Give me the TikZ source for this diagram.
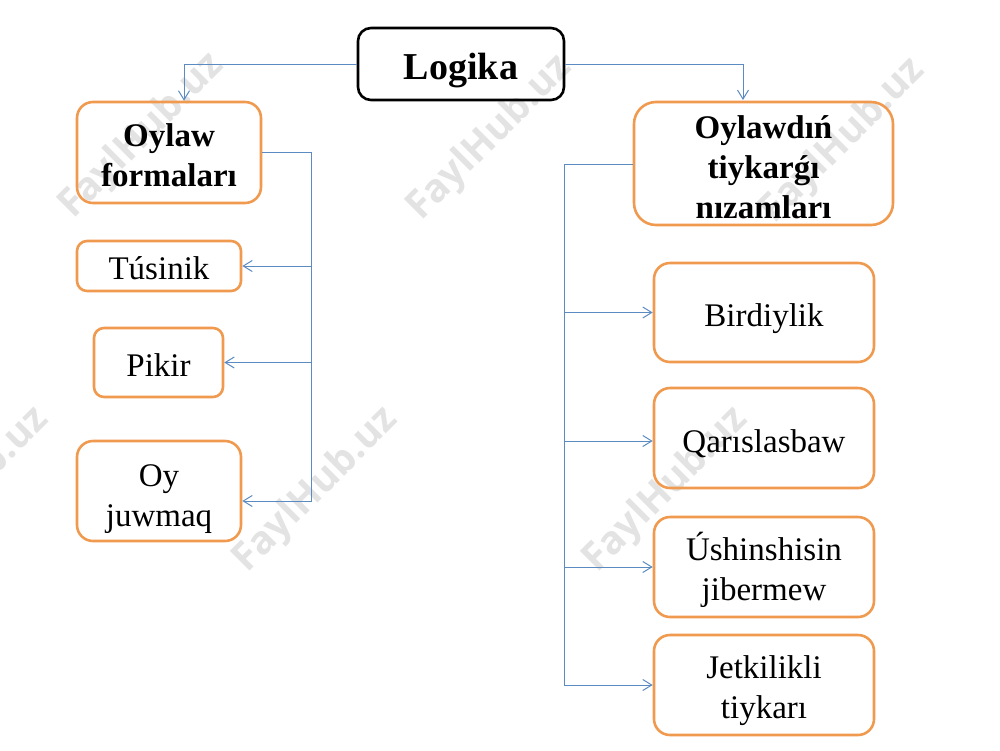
\documentclass[tikz,border=0pt]{standalone}
\usepackage{fontspec}
\setmainfont{Liberation Serif}
\newfontfamily\wmfont{Open Sans}
\usetikzlibrary{arrows.meta,calc}
\definecolor{boxorange}{HTML}{F09A4F}
\definecolor{linkblue}{HTML}{5B8BC0}
\definecolor{wmgray}{HTML}{E3E3E3}
\newcommand{\lowered}[2]{\raisebox{-#1pt}[\height][\depth]{\begin{tabular}[c]{@{}c@{}}#2\end{tabular}}}
\tikzset{
  box/.style={draw=boxorange,line width=2.6pt,align=center,inner sep=0pt,font=\fontsize{33}{40}\selectfont,text=black},
  headbox/.style={box,font=\fontsize{33}{40}\selectfont\bfseries},
  rootbox/.style={draw=black,line width=2.6pt,rounded corners=13pt,align=center,inner sep=0pt,font=\fontsize{38}{44}\selectfont\bfseries},
  link/.style={draw=linkblue,line width=1pt,-{Straight Barb[length=9pt,width=11pt,line width=1pt]}},
  plain/.style={draw=linkblue,line width=1pt},
  wm/.style={text=wmgray,rotate=45,font=\wmfont\fontsize{39}{39}\selectfont\bfseries,inner sep=0pt}
}
\begin{document}
\begin{tikzpicture}[x=1pt,y=-1pt]
\useasboundingbox (0,0) rectangle (1000,750);
\begin{scope}
\clip (0,0) rectangle (1000,750);
\node[wm] (w1) at (142,136) {FaylHub.uz};
\node[wm] (w2) at (490,138) {FaylHub.uz};
\node[wm] (w3) at (843,141) {FaylHub.uz};
\node[wm] (w4) at (-33,490) {FaylHub.uz};
\node[wm] (w5) at (316,490) {FaylHub.uz};
\node[wm] (w6) at (666,490) {FaylHub.uz};
\end{scope}
\node[rootbox,minimum width=206pt,minimum height=72pt] (logika) at (461,64) {\lowered{7}{Logika}};
\node[headbox,rounded corners=16pt,minimum width=184pt,minimum height=101pt] (oylaw) at (169,152.5) {\lowered{6}{Oylaw\\formaları}};
\node[box,rounded corners=10pt,minimum width=164pt,minimum height=50pt] (tusinik) at (159,266) {\lowered{5}{Túsinik}};
\node[box,rounded corners=10pt,minimum width=129pt,minimum height=69pt] (pikir) at (158.5,362.5) {\lowered{6}{Pikir}};
\node[box,rounded corners=16pt,minimum width=164pt,minimum height=100pt] (oy) at (159,491) {\lowered{7}{Oy\\juwmaq}};
\node[headbox,rounded corners=22pt,minimum width=259pt,minimum height=123pt] (tiykar) at (763.5,163.5) {\lowered{7}{Oylawdıń\\tiykarǵı\\nızamları}};
\node[box,rounded corners=16pt,minimum width=220pt,minimum height=99pt] (bir) at (764,312.5) {\lowered{6}{Birdiylik}};
\node[box,rounded corners=16pt,minimum width=220pt,minimum height=100pt] (qar) at (764,438) {\lowered{6}{Qarıslasbaw}};
\node[box,rounded corners=16pt,minimum width=220pt,minimum height=100pt] (ush) at (764,567) {\lowered{5}{Úshinshisin\\jibermew}};
\node[box,rounded corners=16pt,minimum width=220pt,minimum height=100pt] (jet) at (764,685) {\lowered{5}{Jetkilikli\\tiykarı}};
\coordinate (lt) at (311,152);
\coordinate (rt) at (564,164);
\draw[link] (logika.west) -| (oylaw.north -| 184,0);
\draw[link] (logika.east) -| (743,100);
\draw[plain] (oylaw.east |- lt) -- (lt);
\draw[link] (lt) |- (oy.east |- 0,501);
\draw[link] (lt |- tusinik.east) -- (tusinik.east);
\draw[link] (lt |- pikir.east) -- (pikir.east);
\draw[plain] (tiykar.west |- rt) -- (rt);
\draw[link] (rt) |- (jet.west);
\draw[link] (rt |- bir.west) -- (bir.west);
\draw[link] (rt |- 0,441) -- (qar.west |- 0,441);
\draw[link] (rt |- ush.west) -- (ush.west);
\end{tikzpicture}
\end{document}
